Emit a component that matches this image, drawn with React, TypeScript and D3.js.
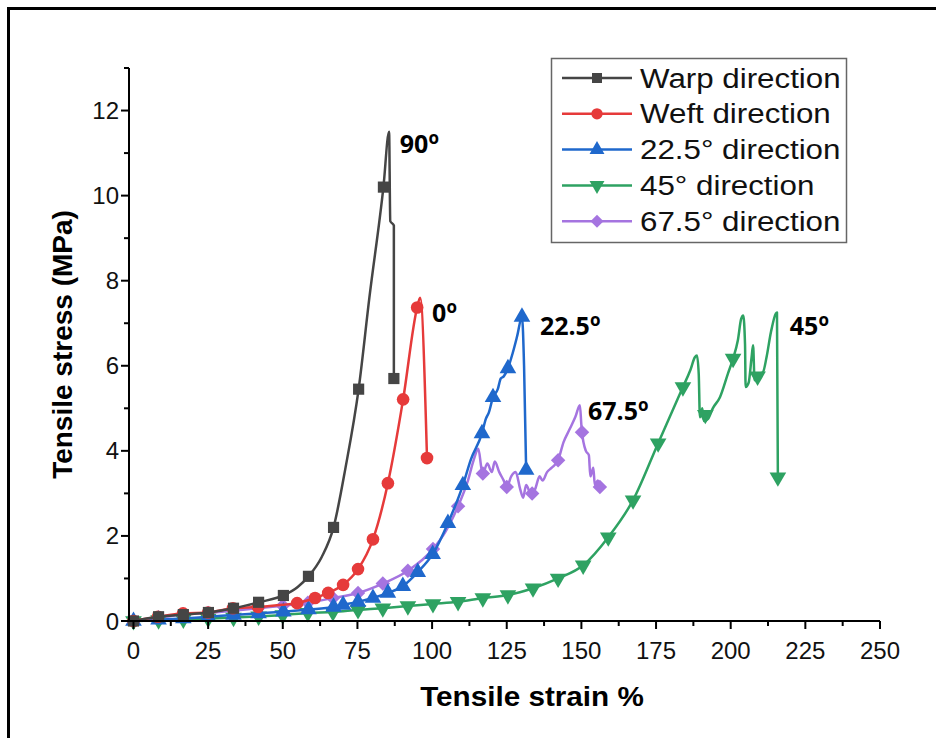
import * as d3 from 'd3';
import React from "react";

const WIDTH = 936;
const HEIGHT = 738;

// strain %, stress MPa
const warpLine = [[0, 0], [8.4, 0.1], [16.7, 0.15], [25.1, 0.2], [33.5, 0.3], [41.9, 0.44], [50.2, 0.6], [55, 0.8], [58.6, 1.05], [63, 1.5], [67, 2.2], [71, 3.6], [75.4, 5.45], [79, 7.6], [83.7, 10.2], [85.6, 11.5], [86, 9.4], [87.2, 9.3], [87.2, 5.7]];
const warpMarks = [[0, 0], [8.4, 0.1], [16.7, 0.15], [25.1, 0.2], [33.5, 0.3], [41.9, 0.44], [50.2, 0.6], [58.6, 1.05], [67, 2.2], [75.4, 5.45], [83.7, 10.2], [87.2, 5.7]];

const weftLine = [[0, 0], [8.2, 0.1], [16.6, 0.18], [25, 0.2], [33.3, 0.3], [41.7, 0.33], [48, 0.37], [54.8, 0.42], [60.8, 0.54], [65.2, 0.66], [70.2, 0.85], [75.2, 1.22], [80.2, 1.92], [85.2, 3.24], [90.3, 5.21], [95, 7.37], [96, 7.6], [98.3, 3.83]];
const weftMarks = [[0, 0], [8.2, 0.1], [16.6, 0.18], [25, 0.2], [33.3, 0.3], [41.7, 0.33], [54.8, 0.42], [60.8, 0.54], [65.2, 0.66], [70.2, 0.85], [75.2, 1.22], [80.2, 1.92], [85.2, 3.24], [90.3, 5.21], [95, 7.37], [98.3, 3.83]];

const d225Line = [[0, 0], [8.4, 0.03], [16.7, 0.06], [25, 0.1], [33.5, 0.14], [41.9, 0.18], [50.2, 0.22], [58.6, 0.27], [67, 0.33], [70.2, 0.38], [75.2, 0.45], [80.2, 0.54], [85.2, 0.66], [90.2, 0.82], [95.2, 1.15], [100.2, 1.57], [105.3, 2.3], [110.3, 3.19], [113, 3.8], [116.7, 4.41], [118, 4.75], [119, 4.9], [120.4, 5.26], [122, 5.45], [123, 5.7], [124, 5.75], [125.4, 5.94], [127, 6.3], [128.5, 6.7], [130.1, 7.15], [130.8, 6.0], [131.5, 3.55]];
const d225Marks = [[0, 0], [8.4, 0.03], [16.7, 0.06], [25, 0.1], [33.5, 0.14], [41.9, 0.18], [50.2, 0.22], [58.6, 0.27], [67, 0.33], [70.2, 0.38], [75.2, 0.45], [80.2, 0.54], [85.2, 0.66], [90.2, 0.82], [95.2, 1.15], [100.2, 1.57], [105.3, 2.3], [110.3, 3.19], [116.7, 4.41], [120.4, 5.26], [125.4, 5.94], [130.1, 7.15], [131.5, 3.55]];

const d45Line = [[0, 0], [8.4, 0.02], [16.7, 0.04], [25, 0.06], [33.5, 0.08], [41.9, 0.11], [50, 0.14], [58.4, 0.19], [66.8, 0.21], [75.2, 0.26], [83.5, 0.3], [91.9, 0.35], [100.3, 0.4], [108.7, 0.45], [117, 0.54], [125.4, 0.61], [133.8, 0.77], [142.2, 1.0], [150.6, 1.31], [159, 1.97], [167.3, 2.84], [175.7, 4.18], [184, 5.5], [186.5, 5.9], [188, 6.2], [188.7, 6.24], [189.3, 5.8], [189.7, 4.79], [190.5, 5.0], [191, 4.7], [192.4, 4.75], [194, 5.0], [196.4, 5.26], [199.1, 5.82], [200.8, 6.17], [202.4, 6.6], [203.5, 7.1], [204.2, 7.18], [204.8, 6.5], [205, 5.5], [206, 5.6], [207, 6.2], [207.5, 6.48], [208, 5.66], [209, 5.8], [210.8, 5.85], [212, 6.2], [213.5, 6.8], [215.5, 7.25], [215.8, 3.38]];
const d45Marks = [[0, 0], [8.4, 0.02], [16.7, 0.04], [25, 0.06], [33.5, 0.08], [41.9, 0.11], [50, 0.14], [58.4, 0.19], [66.8, 0.21], [75.2, 0.26], [83.5, 0.3], [91.9, 0.35], [100.3, 0.4], [108.7, 0.45], [117, 0.54], [125.4, 0.61], [133.8, 0.77], [142.2, 1.0], [150.6, 1.31], [159, 1.97], [167.3, 2.84], [175.7, 4.18], [184, 5.5], [191.5, 4.85], [200.8, 6.17], [209, 5.75], [215.8, 3.38]];

const d675Line = [[0, 0], [8.2, 0.07], [16.6, 0.15], [25, 0.19], [33.3, 0.24], [41.7, 0.3], [50, 0.36], [58.4, 0.43], [66.8, 0.54], [75.2, 0.66], [83.5, 0.88], [91.9, 1.18], [100.3, 1.69], [104.5, 2.1], [108.7, 2.7], [112, 3.3], [114, 3.8], [115.5, 4.05], [116.5, 3.6], [117, 3.47], [118.5, 3.7], [120, 3.5], [121, 3.75], [122.5, 3.5], [124, 3.3], [125, 3.15], [126.5, 3.4], [128, 3.5], [129.5, 3.1], [130.5, 2.9], [131.5, 3.2], [133, 3.0], [134.5, 3.1], [136, 3.4], [137, 3.3], [138.5, 3.5], [140, 3.6], [142.2, 3.78], [144, 4.2], [146, 4.5], [148, 4.8], [149.5, 5.07], [150, 4.6], [150.2, 4.44], [151.5, 4.0], [152.5, 3.9], [153, 3.4], [154, 3.6], [154.5, 3.2], [155.5, 3.3], [156.2, 3.15]];
const d675Marks = [[0, 0], [8.2, 0.07], [16.6, 0.15], [25, 0.19], [33.3, 0.24], [41.7, 0.3], [50, 0.36], [58.4, 0.43], [66.8, 0.54], [75.2, 0.66], [83.5, 0.88], [91.9, 1.18], [100.3, 1.69], [108.7, 2.7], [117, 3.47], [125, 3.15], [133.5, 3.0], [142.2, 3.78], [150.2, 4.44], [156.2, 3.15]];

const seriesNames = ["Warp direction", "Weft direction", "22.5° direction", "45° direction", "67.5° direction"];
const peakLabels = ["90", "0", "22.5", "45", "67.5"];
// where each peak label starts (strain) and its baseline (stress)
const peakAt = [[89.2, 11.0], [100, 7.02], [136.1, 6.72], [219.8, 6.72], [152.2, 4.72]];

const xTicks = d3.range(0, 251, 25);
const yTicks = d3.range(0, 13, 2);

const series = [
    {line: warpLine, marks: warpMarks, color: "#454545", sym: d3.symbolSquare, size: 125, rot: 0},
    {line: weftLine, marks: weftMarks, color: "#e63a3a", sym: d3.symbolCircle, size: 125, rot: 0},
    {line: d225Line, marks: d225Marks, color: "#1f68cc", sym: d3.symbolTriangle, size: 120, rot: 0},
    {line: d45Line, marks: d45Marks, color: "#2ea262", sym: d3.symbolTriangle, size: 120, rot: 180},
    {line: d675Line, marks: d675Marks, color: "#a574e0", sym: d3.symbolSquare, size: 105, rot: 45},
];

const x = d3.scaleLinear().domain([-1.5, 250]).range([129, 880]);
const y = d3.scaleLinear().domain([0, 13]).range([621, 68]);

const lineGen = d3.line<number[]>()
    .x(d => x(d[0]))
    .y(d => y(d[1]))
    .curve(d3.curveMonotoneX);

const FONT = "'Liberation Sans', Arial, sans-serif";

export default function App() {
    const drawOrder = [4, 3, 2, 1, 0];
    return (
        <svg width={WIDTH} height={HEIGHT} style={{position: "absolute", left: 0, top: 0, background: "#fff"}}>
            <rect x={8.5} y={8.5} width={1000} height={1000} fill="#fff" stroke="#000" strokeWidth={3}/>

            {/* curves */}
            {drawOrder.map(i => {
                const s = series[i];
                const path = d3.symbol().type(s.sym).size(s.size)();
                return (
                    <g key={i}>
                        <path d={lineGen(s.line as any) || ""} fill="none" stroke={s.color} strokeWidth={2.5} strokeLinejoin="round"/>
                        {s.marks.map((m, j) => (
                            <path key={j} d={path || ""} fill={s.color}
                                  transform={`translate(${x(m[0])},${y(m[1])}) rotate(${s.rot})`}/>
                        ))}
                    </g>
                );
            })}

            {/* axes */}
            <g stroke="#000" strokeWidth={2}>
                <line x1={x.range()[0]} x2={x.range()[1]} y1={621} y2={621}/>
                <line x1={129} x2={129} y1={y.range()[0] + 1} y2={y.range()[1]}/>
                {xTicks.map(t => <line key={"xt" + t} x1={x(t)} x2={x(t)} y1={621} y2={629}/>)}
                {xTicks.slice(0, -1).map(t => <line key={"xm" + t} x1={x(t + 12.5)} x2={x(t + 12.5)} y1={621} y2={626}/>)}
                {yTicks.map(t => <line key={"yt" + t} x1={121} x2={129} y1={y(t)} y2={y(t)}/>)}
                {yTicks.map(t => <line key={"ym" + t} x1={124} x2={129} y1={y(t + 1)} y2={y(t + 1)}/>)}
            </g>
            <g fontFamily={FONT} fontSize={24} fill="#111">
                {xTicks.map(t => <text key={"xl" + t} x={x(t)} y={659} textAnchor="middle">{t}</text>)}
                {yTicks.map(t => <text key={"yl" + t} x={119} y={y(t) + 8.5} textAnchor="end">{t}</text>)}
            </g>
            <text x={532} y={706} textAnchor="middle" fontFamily={FONT} fontWeight="bold" fontSize={28}
                  transform="translate(532,0) scale(1.06,1) translate(-532,0)">Tensile strain %</text>
            <text transform={`translate(72,${y(6.5)}) rotate(-90)`} textAnchor="middle" fontFamily={FONT}
                  fontWeight="bold" fontSize={28}>Tensile stress (MPa)</text>

            {/* peak labels */}
            {peakLabels.map((l, i) => (
                <text key={"pk" + i} x={x(peakAt[i][0])} y={y(peakAt[i][1])} fontFamily="'Open Sans', sans-serif"
                      fontWeight="bold" fontSize={25} fill="#000">
                    {l}<tspan fontSize={17} dy={-9}>o</tspan>
                </text>
            ))}

            {/* legend */}
            <rect x={551.5} y={58.5} width={295} height={184} fill="#fff" stroke="#666" strokeWidth={1.5}/>
            {seriesNames.map((n, i) => {
                const s = series[i];
                const cy = 78 + i * 35.8;
                const path = d3.symbol().type(s.sym).size(s.size * 0.8)();
                return (
                    <g key={"lg" + i}>
                        <line x1={562} x2={632} y1={cy} y2={cy} stroke={s.color} strokeWidth={2.5}/>
                        <path d={path || ""} fill={s.color} transform={`translate(597,${cy}) rotate(${s.rot})`}/>
                        <text x={0} y={0} fontFamily={FONT} fontSize={27} fill="#111"
                              transform={`translate(640,${cy + 9.5}) scale(1.16,1)`}>{n}</text>
                    </g>
                );
            })}
        </svg>
    );
}
